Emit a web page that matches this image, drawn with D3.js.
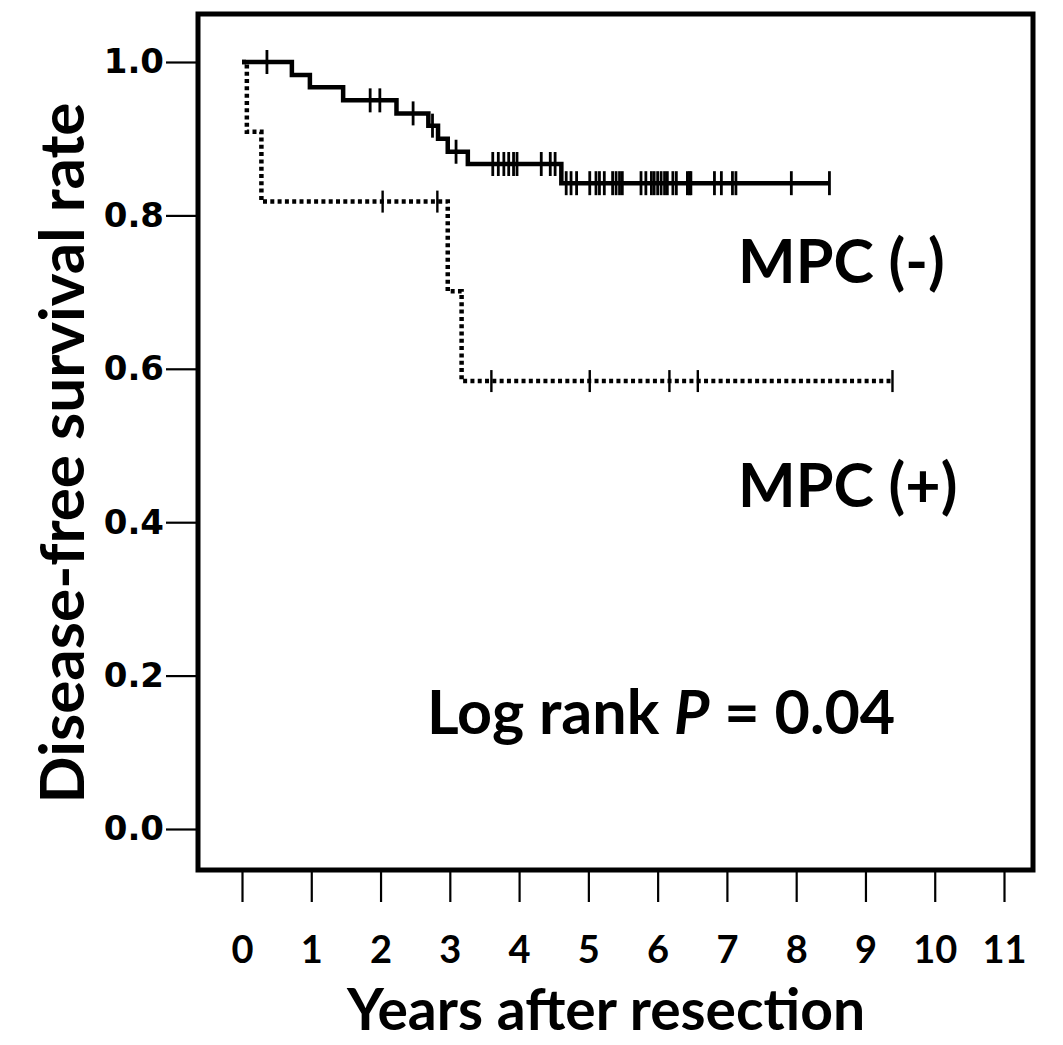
<!DOCTYPE html>
<html>
<head>
<meta charset="utf-8">
<script src="https://cdn.jsdelivr.net/npm/d3@7"></script>
<style>
  body { margin: 0; background: #fff; }
  svg { display: block; }
</style>
</head>
<body>
<div id="chart"></div>
<script>
// MPC (-) curve: step times (years) and survival after each step
var negTimes = [0, 0.72, 0.98, 1.46, 2.23, 2.69, 2.83, 2.97, 3.26, 4.61, 8.48];
var negSurv  = [1, 0.983, 0.967, 0.950, 0.933, 0.917, 0.900, 0.883, 0.867, 0.842, 0.842];
// censored cases for MPC (-)
var negCensor = [0.36, 1.85, 1.99, 2.47, 2.75, 3.09, 3.62, 3.70, 3.78, 3.85, 3.92, 3.97,
    4.32, 4.45, 4.52, 4.68, 4.75, 4.83, 5.02, 5.11, 5.16, 5.23, 5.35, 5.40, 5.45, 5.49,
    5.76, 5.83, 5.91, 5.95, 6.00, 6.05, 6.10, 6.14, 6.22, 6.27, 6.43, 6.46, 6.48,
    6.82, 6.92, 7.08, 7.13, 7.93, 8.48];

// MPC (+) curve
var posTimes = [0, 0.07, 0.28, 2.97, 3.17, 9.39];
var posSurv  = [1, 0.909, 0.818, 0.701, 0.584, 0.584];
var posCensor = [2.03, 2.82, 3.60, 5.02, 6.17, 6.58, 9.39];

// axis ticks
var xTicks = [0, 1, 2, 3, 4, 5, 6, 7, 8, 9, 10, 11];
var yTicks = [0, 0.2, 0.4, 0.6, 0.8, 1.0];

var width = 1063,
    height = 1045;

var frame = {left: 198, top: 14, right: 1033, bottom: 870};

var x = d3.scaleLinear().domain([0, 11]).range([242, 1004]);
var y = d3.scaleLinear().domain([0, 1]).range([829, 62]);

var svg = d3.select("#chart")
    .append("svg")
    .attr("width", width)
    .attr("height", height);

// y axis with ticks sticking out of the frame
var yAxis = d3.axisLeft(y)
    .tickValues(yTicks)
    .tickSize(32)
    .tickPadding(2)
    .tickFormat(d3.format(".1f"));

svg.append("g")
    .attr("transform", "translate(" + frame.left + ",0)")
    .call(yAxis)
    .call(function(g){
        g.select(".domain").remove();
        g.selectAll(".tick line").attr("stroke", "#000").attr("stroke-width", 2.2);
        g.selectAll(".tick text")
            .attr("fill", "#000")
            .style("font-family", "'DejaVu Sans', Verdana, sans-serif")
            .style("font-weight", "bold")
            .style("font-size", "34px");
    });

var xAxis = d3.axisBottom(x)
    .tickValues(xTicks)
    .tickSize(32)
    .tickPadding(34);

svg.append("g")
    .attr("transform", "translate(0," + frame.bottom + ")")
    .call(xAxis)
    .call(function(g){
        g.select(".domain").remove();
        g.selectAll(".tick line").attr("stroke", "#000").attr("stroke-width", 2.2);
        g.selectAll(".tick text")
            .attr("fill", "#000")
            .style("font-family", "Lato, sans-serif")
            .style("font-weight", "bold")
            .style("font-size", "38px");
    });

// plot frame
svg.append("rect")
    .attr("x", frame.left)
    .attr("y", frame.top)
    .attr("width", frame.right - frame.left)
    .attr("height", frame.bottom - frame.top)
    .attr("fill", "none")
    .attr("stroke", "#000")
    .attr("stroke-width", 5);

// step line helper
var stepLine = d3.line()
    .x(function(d){ return x(d[0]); })
    .y(function(d){ return y(d[1]); })
    .curve(d3.curveStepAfter);

function survAt(times, surv, t){
    var i = d3.bisectRight(times, t) - 1;
    return surv[Math.max(i, 0)];
}

// MPC (+) dotted curve
svg.append("path")
    .datum(d3.zip(posTimes, posSurv))
    .attr("d", stepLine)
    .attr("fill", "none")
    .attr("stroke", "#000")
    .attr("stroke-width", 4.5)
    .attr("stroke-dasharray", "4,3.3");

svg.selectAll(".posCensor")
    .data(posCensor)
    .enter()
    .append("line")
    .attr("class", "posCensor")
    .attr("x1", function(d){ return x(d); })
    .attr("x2", function(d){ return x(d); })
    .attr("y1", function(d){ return y(survAt(posTimes, posSurv, d)) - 11; })
    .attr("y2", function(d){ return y(survAt(posTimes, posSurv, d)) + 11; })
    .attr("stroke", "#000")
    .attr("stroke-width", 2.4);

// MPC (-) solid curve
svg.append("path")
    .datum(d3.zip(negTimes, negSurv))
    .attr("d", stepLine)
    .attr("fill", "none")
    .attr("stroke", "#000")
    .attr("stroke-width", 4.5);

svg.selectAll(".negCensor")
    .data(negCensor)
    .enter()
    .append("line")
    .attr("class", "negCensor")
    .attr("x1", function(d){ return x(d); })
    .attr("x2", function(d){ return x(d); })
    .attr("y1", function(d){ return y(survAt(negTimes, negSurv, d)) - 12; })
    .attr("y2", function(d){ return y(survAt(negTimes, negSurv, d)) + 12; })
    .attr("stroke", "#000")
    .attr("stroke-width", 2.8);

// labels
var labelFont = "Lato, sans-serif";

svg.append("text")
    .attr("x", 738)
    .attr("y", 283)
    .style("font-family", labelFont)
    .style("font-weight", "bold")
    .style("font-size", "61px")
    .text("MPC (-)");

svg.append("text")
    .attr("x", 738)
    .attr("y", 507)
    .style("font-family", labelFont)
    .style("font-weight", "bold")
    .style("font-size", "61px")
    .text("MPC (+)");

var logRank = svg.append("text")
    .attr("x", 427)
    .attr("y", 734)
    .style("font-family", labelFont)
    .style("font-weight", "bold")
    .style("font-size", "61px");
logRank.append("tspan").text("Log rank ");
logRank.append("tspan").style("font-style", "italic").text("P");
logRank.append("tspan").text(" = 0.04");

// axis titles
svg.append("text")
    .attr("transform", "translate(84,453) rotate(-90)")
    .attr("text-anchor", "middle")
    .style("font-family", labelFont)
    .style("font-weight", "bold")
    .style("font-size", "62px")
    .text("Disease-free survival rate");

svg.append("text")
    .attr("x", 606)
    .attr("y", 1030)
    .attr("text-anchor", "middle")
    .style("font-family", labelFont)
    .style("font-weight", "bold")
    .style("font-size", "57px")
    .text("Years after resection");
</script>
</body>
</html>
